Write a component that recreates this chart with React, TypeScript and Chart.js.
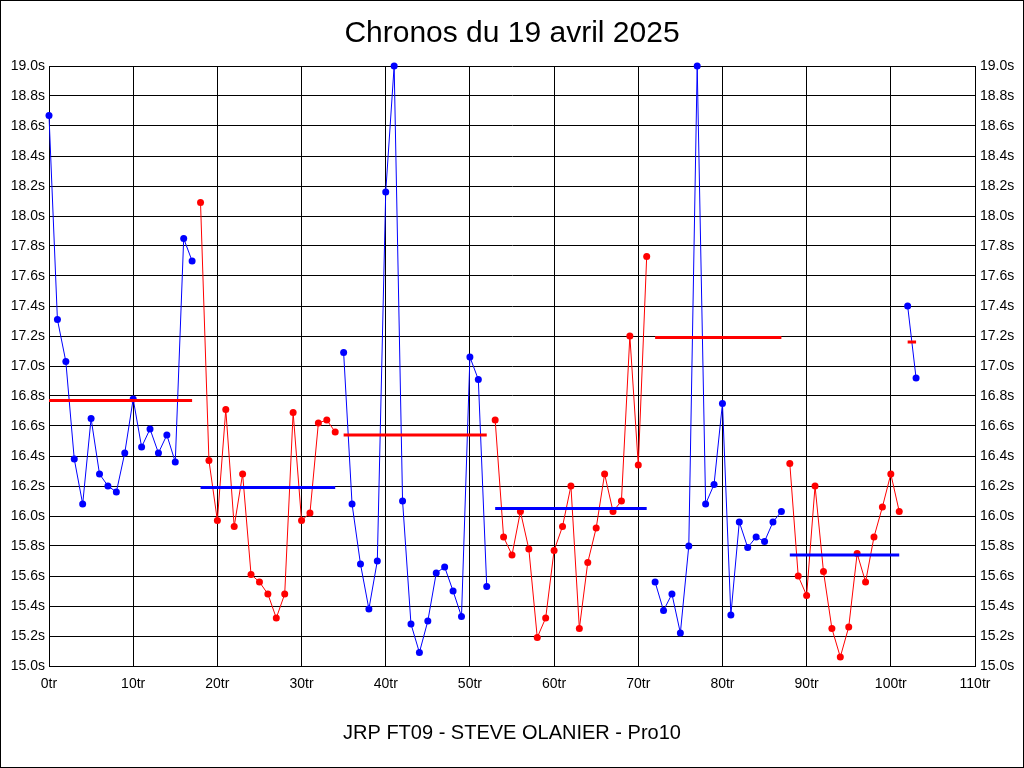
import React, { useEffect, useRef } from "react";
import { Chart, registerables } from "chart.js";

Chart.register(...registerables);

const TITLE = "Chronos du 19 avril 2025";
const FOOTER = "JRP FT09 - STEVE OLANIER - Pro10";

const stintStartLaps = [0, 18, 35, 53, 72, 88, 102];
const stint1Times = [18.67, 17.31, 17.03, 16.38, 16.08, 16.65, 16.28, 16.2, 16.16, 16.42, 16.78, 16.46, 16.58, 16.42, 16.54, 16.36, 17.85, 17.7];
const stint2Times = [18.09, 16.37, 15.97, 16.71, 15.93, 16.28, 15.61, 15.56, 15.48, 15.32, 15.48, 16.69, 15.97, 16.02, 16.62, 16.64, 16.56];
const stint3Times = [17.09, 16.08, 15.68, 15.38, 15.7, 18.16, 19.0, 16.1, 15.28, 15.09, 15.3, 15.62, 15.66, 15.5, 15.33, 17.06, 16.91, 15.53];
const stint4Times = [16.64, 15.86, 15.74, 16.03, 15.78, 15.19, 15.32, 15.77, 15.93, 16.2, 15.25, 15.69, 15.92, 16.28, 16.03, 16.1, 17.2, 16.34, 17.73];
const stint5Times = [15.56, 15.37, 15.48, 15.22, 15.8, 19.0, 16.08, 16.21, 16.75, 15.34, 15.96, 15.79, 15.86, 15.83, 15.96, 16.03];
const stint6Times = [16.35, 15.6, 15.47, 16.2, 15.63, 15.25, 15.06, 15.26, 15.75, 15.56, 15.86, 16.06, 16.28, 16.03];
const stint7Times = [17.4, 16.92];
const stintAverages = [16.77, 16.19, 16.54, 16.05, 17.19, 15.74, 17.16];

const yMin = 15.0;
const yMax = 19.0;
const yStep = 0.2;
const xMin = 0;
const xMax = 110;
const xStep = 10;

const BLUE = "#0000FF";
const RED = "#FF0000";
const FONT = "'Liberation Sans', Arial, sans-serif";

const frameAndText = {
  id: "frameAndText",
  afterDraw(chart: any) {
    const ctx = chart.ctx;
    ctx.save();
    ctx.strokeStyle = "#000";
    ctx.lineWidth = 1;
    ctx.strokeRect(0.5, 0.5, chart.width - 1, chart.height - 1);
    ctx.fillStyle = "#000";
    ctx.textAlign = "center";
    ctx.textBaseline = "middle";
    ctx.font = `30px ${FONT}`;
    ctx.fillText(TITLE, chart.width / 2, 34);
    ctx.font = `20px ${FONT}`;
    ctx.fillText(FOOTER, chart.width / 2, 733);
    ctx.restore();
  },
};

export default function App() {
  const ref = useRef<HTMLCanvasElement | null>(null);

  useEffect(() => {
    if (!ref.current) return;
    const stints = [stint1Times, stint2Times, stint3Times, stint4Times, stint5Times, stint6Times, stint7Times];
    const datasets: any[] = [];
    stints.forEach((times, i) => {
      const start = stintStartLaps[i];
      const color = i % 2 === 0 ? BLUE : RED;
      const avgColor = i % 2 === 0 ? RED : BLUE;
      datasets.push({
        data: times.map((t, k) => ({ x: start + k, y: t })),
        borderColor: color,
        backgroundColor: color,
        borderWidth: 1,
        pointRadius: 3.5,
        pointBorderWidth: 0,
        pointBackgroundColor: color,
        tension: 0,
        clip: false,
        order: 1,
      });
      datasets.push({
        data: [
          { x: start, y: stintAverages[i] },
          { x: start + times.length - 1, y: stintAverages[i] },
        ],
        borderColor: avgColor,
        backgroundColor: avgColor,
        borderWidth: 3,
        pointRadius: 0,
        tension: 0,
        clip: false,
        order: 0,
      });
    });

    const tickFont = { family: FONT, size: 14 };
    const chart = new Chart(ref.current, {
      type: "line",
      data: { datasets },
      plugins: [frameAndText],
      options: {
        animation: false,
        responsive: false,
        maintainAspectRatio: false,
        layout: { padding: { top: 66, left: 0, right: 0, bottom: 0 } },
        plugins: { legend: { display: false }, tooltip: { enabled: false }, title: { display: false } },
        scales: {
          x: {
            type: "linear",
            min: xMin,
            max: xMax,
            ticks: {
              stepSize: xStep,
              color: "#000",
              font: tickFont,
              padding: 10,
              maxRotation: 0,
              callback: (v: any) => `${v}tr`,
            },
            grid: { color: "#000", lineWidth: 1, drawTicks: false },
            border: { color: "#000", width: 1 },
            afterFit: (s: any) => {
              s.height = 102;
            },
          },
          y: {
            type: "linear",
            position: "left",
            min: yMin,
            max: yMax,
            ticks: {
              stepSize: yStep,
              color: "#000",
              font: tickFont,
              padding: 4,
              callback: (v: any) => `${Number(v).toFixed(1)}s`,
            },
            grid: { color: "#000", lineWidth: 1, drawTicks: false },
            border: { color: "#000", width: 1 },
            afterFit: (s: any) => {
              s.width = 49;
            },
          },
          y2: {
            type: "linear",
            position: "right",
            min: yMin,
            max: yMax,
            ticks: {
              stepSize: yStep,
              color: "#000",
              font: tickFont,
              padding: 5,
              callback: (v: any) => `${Number(v).toFixed(1)}s`,
            },
            grid: { display: false, drawTicks: false },
            border: { color: "#000", width: 1 },
            afterFit: (s: any) => {
              s.width = 49;
            },
          },
        },
      },
    });
    return () => chart.destroy();
  }, []);

  return (
    <div style={{ position: "fixed", left: 0, top: 0, width: 1024, height: 768, background: "#fff" }}>
      <canvas ref={ref} width={1024} height={768} style={{ display: "block", width: 1024, height: 768 }} />
    </div>
  );
}
